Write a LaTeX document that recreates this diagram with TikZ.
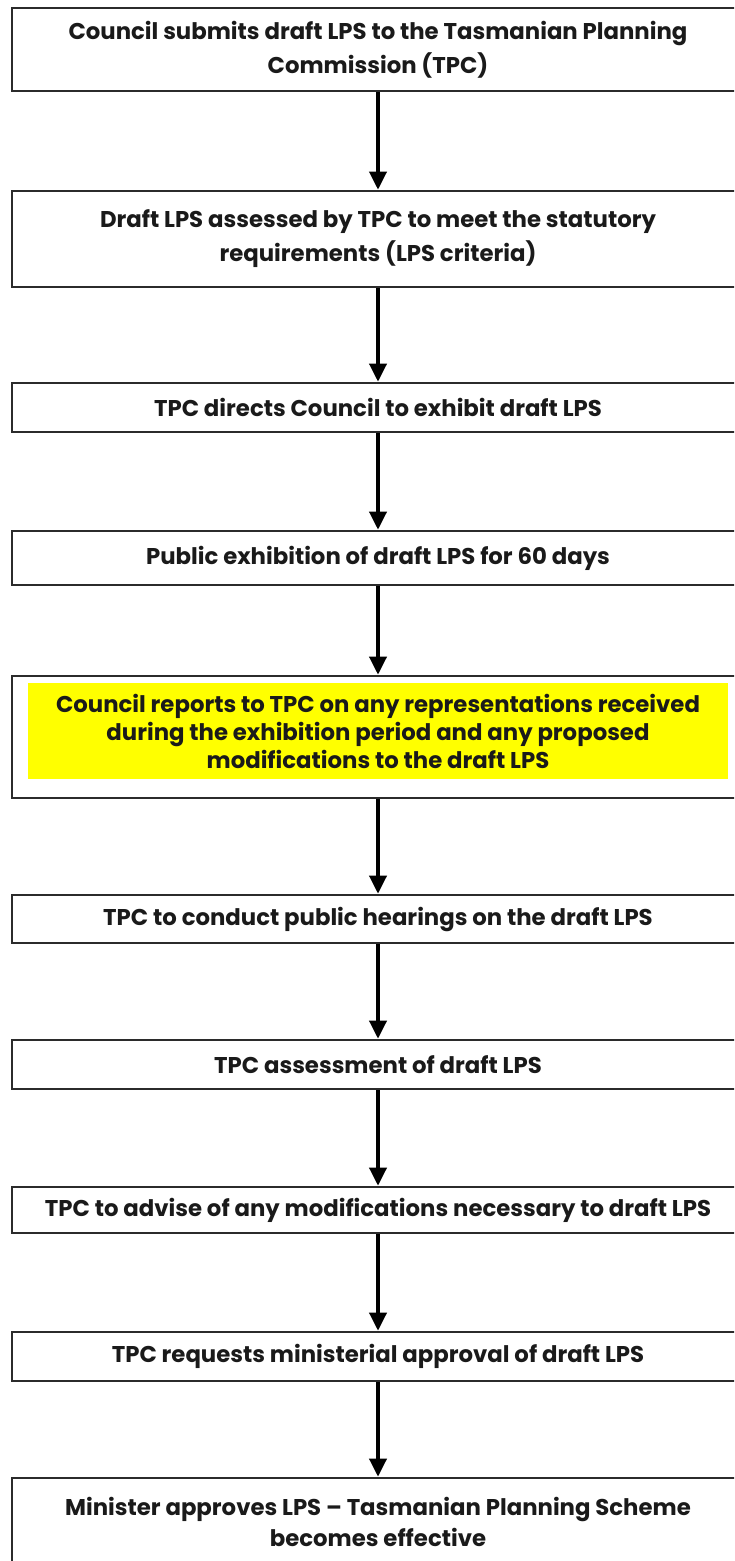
\documentclass[tikz,border=0pt]{standalone}
\usepackage{fontspec}
\setmainfont{Poppins}
\usetikzlibrary{arrows.meta}
\definecolor{boxline}{HTML}{2B2B2B}
\definecolor{txt}{HTML}{1A1A1A}
\definecolor{hl}{HTML}{FFFF00}
\tikzset{
  stepbox/.style={draw=boxline, line width=2.6pt, rectangle, minimum width=732pt, inner sep=0pt, align=center, text=txt,
    font=\bfseries\fontsize{22.8}{34}\selectfont},
  hlbox/.style={fill=hl, rectangle, minimum width=700pt, minimum height=96pt, inner sep=0pt, align=center, text=txt,
    font=\bfseries\fontsize{22.8}{28}\selectfont},
  flow/.style={draw=black, line width=3.6pt, -{Triangle[width=17pt,length=18pt]}}
}
\begin{document}
\begin{tikzpicture}[x=1pt,y=-1pt]
\useasboundingbox (0,0) rectangle (734,1561);
\clip (0,0) rectangle (734,1561);
\fill[white] (0,0) rectangle (734,1561);
\node[stepbox, minimum height=83pt] (b1) at (378,49.5) {Council submits draft LPS to the Tasmanian Planning\\Commission (TPC)};
\node[stepbox, minimum height=96pt] (b2) at (378,239) {Draft LPS assessed by TPC to meet the statutory\\requirements (LPS criteria)};
\node[stepbox, minimum height=49pt] (b3) at (378,407.5) {TPC directs Council to exhibit draft LPS};
\node[stepbox, minimum height=54pt] (b4) at (378,558) {Public exhibition of draft LPS for 60 days};
\node[stepbox, minimum height=122pt] (b5) at (378,737) {};
\node[hlbox] (b5t) at (378,731) {Council reports to TPC on any representations received\\during the exhibition period and any proposed\\modifications to the draft LPS};
\node[stepbox, minimum height=48pt] (b6) at (378,919) {TPC to conduct public hearings on the draft LPS};
\node[stepbox, minimum height=49pt] (b7) at (378,1064.5) {TPC assessment of draft LPS};
\node[stepbox, minimum height=46pt] (b8) at (378,1210) {TPC to advise of any modifications necessary to draft LPS};
\node[stepbox, minimum height=49pt] (b9) at (378,1356.5) {TPC requests ministerial approval of draft LPS};
\node[stepbox, minimum height=88pt, font=\bfseries\fontsize{22.8}{31}\selectfont] (b10) at (378,1522) {Minister approves LPS – Tasmanian Planning Scheme\\becomes effective};
\draw[flow] (b1.south) -- (b2.north);
\draw[flow] (b2.south) -- (b3.north);
\draw[flow] (b3.south) -- (b4.north);
\draw[flow] (b4.south) -- (b5.north);
\draw[flow] (b5.south) -- (b6.north);
\draw[flow] (b6.south) -- (b7.north);
\draw[flow] (b7.south) -- (b8.north);
\draw[flow] (b8.south) -- (b9.north);
\draw[flow] (b9.south) -- (b10.north);
\end{tikzpicture}
\end{document}
